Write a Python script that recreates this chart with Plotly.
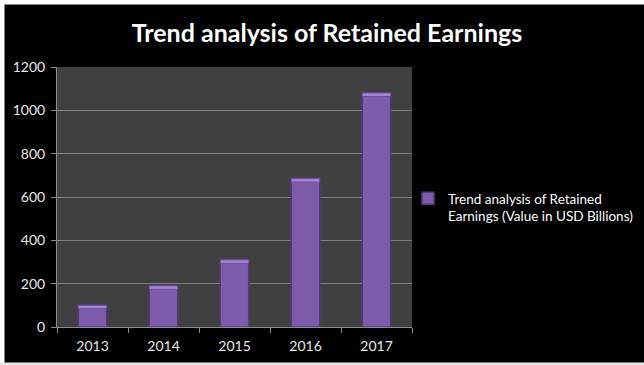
import plotly.graph_objects as go

# Retained earnings by fiscal year (USD billions)
years = ["2013", "2014", "2015", "2016", "2017"]
retained_earnings = [100, 190, 310, 685, 1080]
y_ticks = [0, 200, 400, 600, 800, 1000, 1200]

series_name = "Trend analysis of Retained<br>Earnings (Value in USD Billions)"
cap = 16  # depth of the bevelled highlight on each bar top

W, H = 644, 365
L, R, T, B = 57, 232, 67, 38
pw, ph = W - L - R, H - T - B


def px_x(p):
    return (p - L) / pw


def px_y(p):
    return (H - B - p) / ph


fig = go.Figure()
fig.add_trace(go.Bar(
    x=years, y=retained_earnings, name=series_name,
    marker=dict(color="#7f5bab", line=dict(color="#553a7c", width=1.5)),
    showlegend=True,
))
fig.add_trace(go.Bar(
    x=years, y=[cap] * len(years),
    base=[v - cap for v in retained_earnings],
    marker=dict(color="#a486d8", line=dict(color="#6e4f9c", width=1)),
    showlegend=False, hoverinfo="skip",
))

# frame strips around the black chart area
frame = [
    dict(x0=px_x(0), x1=px_x(W), y0=px_y(0), y1=px_y(4.5), color="white"),
    dict(x0=px_x(0), x1=px_x(4.5), y0=px_y(0), y1=px_y(H), color="white"),
    dict(x0=px_x(0), x1=px_x(W), y0=px_y(362.5), y1=px_y(H), color="#e6e6e6"),
]
shapes = [dict(type="rect", xref="paper", yref="paper", x0=f["x0"], x1=f["x1"],
               y0=f["y0"], y1=f["y1"], fillcolor=f["color"], line=dict(width=0),
               layer="above") for f in frame]

fig.update_layout(
    width=W, height=H,
    margin=dict(l=L, r=R, t=T, b=B, autoexpand=False),
    paper_bgcolor="black",
    plot_bgcolor="#404040",
    barmode="overlay",
    bargap=0.6,
    font=dict(family="Lato, Open Sans, sans-serif", color="white", size=14),
    title=dict(text="<b>Trend analysis of Retained Earnings</b>",
               x=327 / W, xanchor="center",
               y=1 - 33 / H, yanchor="middle",
               font=dict(size=25, color="white", family="Lato, Open Sans, sans-serif")),
    xaxis=dict(
        showgrid=False, ticks="outside", tickson="boundaries", ticklen=5,
        tickcolor="#8c8c8c", showline=True, linecolor="#8c8c8c", linewidth=1,
        tickfont=dict(color="#e8e8e8", size=14), ticklabelstandoff=6,
    ),
    yaxis=dict(
        range=[0, 1200], tickvals=y_ticks, showgrid=True, gridcolor="#808080",
        gridwidth=1, ticks="outside", ticklen=5, tickcolor="#8c8c8c",
        showline=True, linecolor="#8c8c8c", linewidth=1, zeroline=False,
        tickfont=dict(color="#e8e8e8", size=14), ticklabelstandoff=3,
    ),
    legend=dict(x=px_x(408), xanchor="left", y=px_y(183), yanchor="top",
                valign="top", bgcolor="rgba(0,0,0,0)",
                font=dict(size=13.5, color="white"), itemwidth=30),
    shapes=shapes,
)

fig.write_html("out.html")
